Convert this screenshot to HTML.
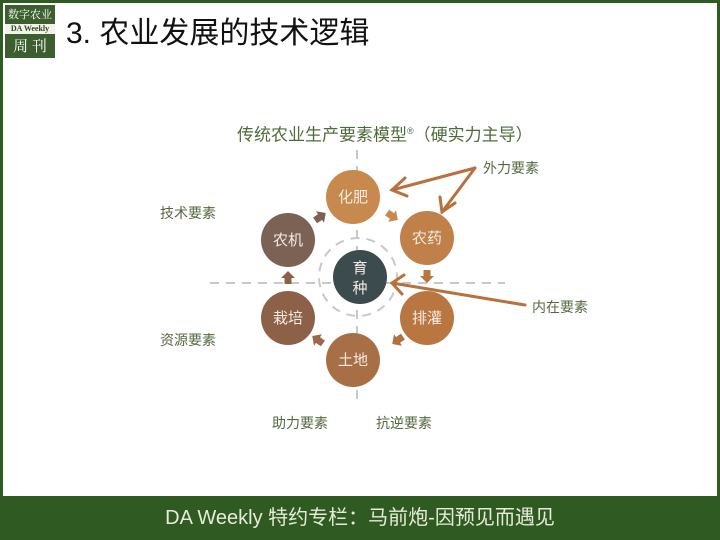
<!DOCTYPE html>
<html><head><meta charset="utf-8"><style>
body{margin:0;width:720px;height:540px;position:relative;overflow:hidden;background:#fff;font-family:"Liberation Sans","Noto Sans CJK SC",sans-serif}
.t{position:absolute;white-space:nowrap}
</style></head><body>
<div style="position:absolute;left:0;top:0;width:720px;height:540px;box-sizing:border-box;border:3px solid #2f5a22;border-bottom:none"></div>
<div style="position:absolute;left:0;top:496px;width:720px;height:44px;background:#2f5a22"></div>
<div class="t" style="left:0;width:720px;top:506px;text-align:center;color:#e6ecd8;font-size:20px;line-height:24px">DA Weekly 特约专栏：马前炮-因预见而遇见</div>
<div style="position:absolute;left:5px;top:5px;width:50px;height:53px;background:#3d5e2f"></div>
<div style="position:absolute;left:5px;top:24px;width:50px;height:10px;background:#f2f2ea"></div>
<div class="t" style="left:5px;top:7px;width:50px;text-align:center;color:#fff;font-size:11px;font-family:'Noto Serif CJK SC',serif;line-height:14px">数字农业</div>
<div class="t" style="left:5px;top:24px;width:50px;text-align:center;color:#2f4a22;font-size:8px;font-weight:bold;font-family:'Liberation Serif',serif;line-height:10px">DA Weekly</div>
<div class="t" style="left:5px;top:36px;width:50px;text-align:center;color:#fff;font-size:15px;font-family:'Noto Serif CJK SC',serif;line-height:20px">周 刊</div>
<div class="t" style="left:66px;top:16px;font-size:30px;line-height:36px;color:#111">3. 农业发展的技术逻辑</div>
<div class="t" style="left:237px;top:120px;font-size:17px;color:#4f6b3a;line-height:22px">传统农业生产要素模型<sup style="font-size:9px">®</sup>（硬实力主导）</div>
<svg width="720" height="540" style="position:absolute;left:0;top:0" font-family="Liberation Sans,Noto Sans CJK SC,sans-serif">
<defs><polygon id="ba" points="-6,-3.5 0,-3.5 0,-7 7,0 0,7 0,3.5 -6,3.5"/></defs>
<g stroke="#c8c8c8" stroke-width="2" stroke-dasharray="9,7" fill="none">
<line x1="210" y1="283" x2="505" y2="283"/>
<line x1="357" y1="150" x2="357" y2="405"/>
<circle cx="358" cy="277" r="39"/>
</g>
<circle cx="353" cy="197" r="27" fill="#c8894f"/>
<circle cx="427" cy="238" r="27" fill="#c0804a"/>
<circle cx="427" cy="318" r="27" fill="#b97640"/>
<circle cx="353" cy="360" r="27" fill="#a86f47"/>
<circle cx="288" cy="318" r="27" fill="#8c6148"/>
<circle cx="288" cy="240" r="27" fill="#7b6254"/>
<circle cx="360" cy="277" r="27" fill="#3c4b4e"/>
<g fill="#f4ece4" font-size="15" text-anchor="middle">
<text x="353" y="202">化肥</text><text x="427" y="243">农药</text><text x="427" y="323">排灌</text>
<text x="353" y="365">土地</text><text x="288" y="323">栽培</text><text x="288" y="245">农机</text>
<text x="360" y="273">育</text><text x="360" y="293">种</text>
</g>
<g>
<use href="#ba" fill="#c8894f" transform="translate(392,216) rotate(35)"/>
<use href="#ba" fill="#b97640" transform="translate(427,276) rotate(90)"/>
<use href="#ba" fill="#b0703f" transform="translate(398,340) rotate(145)"/>
<use href="#ba" fill="#9a6848" transform="translate(318,340) rotate(215)"/>
<use href="#ba" fill="#8c6148" transform="translate(288,278) rotate(270)"/>
<use href="#ba" fill="#7b6254" transform="translate(320,217) rotate(325)"/>
</g>
<g stroke="#b8703c" stroke-width="3" fill="none" stroke-linecap="round">
<line x1="475" y1="168" x2="392" y2="190"/><polyline points="405,178 392,190 407,196"/>
<line x1="475" y1="168" x2="442" y2="212"/><polyline points="440,197 442,212 455,203"/>
<line x1="525" y1="305" x2="392" y2="283"/><polyline points="404,275 392,283 402,294"/>
</g>
<g fill="#55683f" font-size="14">
<text x="483" y="173">外力要素</text><text x="532" y="312">内在要素</text>
<text x="160" y="218">技术要素</text><text x="160" y="345">资源要素</text>
<text x="272" y="428">助力要素</text><text x="376" y="428">抗逆要素</text>
</g>
</svg>
</body></html>
